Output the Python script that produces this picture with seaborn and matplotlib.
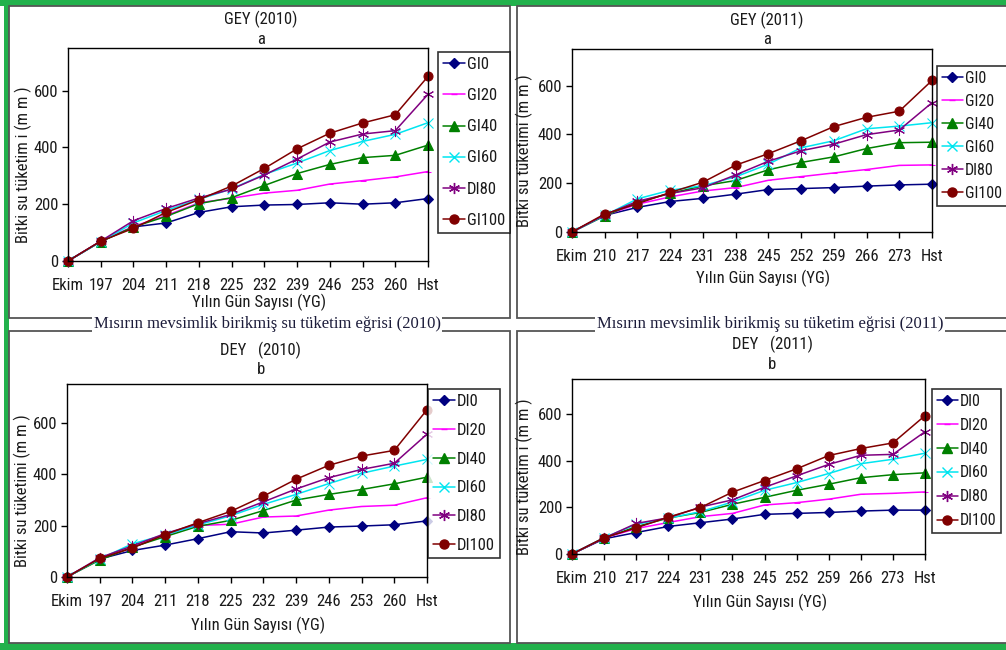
import matplotlib
matplotlib.use("Agg")
import matplotlib.pyplot as plt
from matplotlib.patches import Rectangle
from matplotlib.lines import Line2D
from matplotlib import font_manager
import seaborn as sns
import numpy as np

sns.set_theme(style="white")

_names = {f.name for f in font_manager.fontManager.ttflist}
_cond = None
for cand in ["Liberation Sans Narrow", "Arial Narrow", "Roboto Condensed",
             "Open Sans Condensed", "DejaVu Sans Condensed"]:
    if cand in _names:
        _cond = cand
        break
SANS = ([_cond] if _cond else []) + ["Liberation Sans", "DejaVu Sans"]
SERIF = ["Liberation Serif", "DejaVu Serif"]
plt.rcParams["font.family"] = SANS
FS = 12 if _cond else 11

# ---------------- data ----------------
x_2010 = ["Ekim", "197", "204", "211", "218", "225", "232", "239", "246", "253", "260", "Hst"]
x_2011 = ["Ekim", "210", "217", "224", "231", "238", "245", "252", "259", "266", "273", "Hst"]

gey_labels = ["GI0", "GI20", "GI40", "GI60", "DI80", "GI100"]
dey_labels = ["DI0", "DI20", "DI40", "DI60", "DI80", "DI100"]

gey2010_0 = [0, 69, 120, 134, 171, 191, 197, 199, 205, 200, 205, 220]
gey2010_20 = [0, 69, 122, 160, 205, 221, 239, 249, 271, 283, 296, 315]
gey2010_40 = [0, 68, 120, 157, 202, 223, 266, 308, 340, 364, 372, 408]
gey2010_60 = [0, 68, 134, 178, 217, 254, 305, 345, 389, 421, 446, 487]
gey2010_80 = [0, 70, 142, 185, 222, 253, 303, 359, 419, 447, 459, 587]
gey2010_100 = [0, 70, 115, 171, 216, 264, 326, 395, 450, 486, 515, 650]

gey2011_0 = [0, 68, 101, 125, 138, 155, 174, 178, 182, 188, 193, 196]
gey2011_20 = [0, 68, 114, 144, 168, 182, 212, 227, 242, 256, 273, 275]
gey2011_40 = [0, 66, 122, 158, 189, 211, 255, 285, 308, 342, 366, 368]
gey2011_60 = [0, 68, 136, 171, 190, 226, 278, 345, 374, 423, 434, 448]
gey2011_80 = [0, 70, 126, 158, 181, 234, 290, 333, 360, 399, 418, 530]
gey2011_100 = [0, 74, 116, 162, 204, 274, 321, 374, 432, 470, 495, 621]

dey2010_0 = [0, 70, 103, 124, 149, 176, 171, 182, 194, 198, 203, 218]
dey2010_20 = [0, 70, 115, 163, 200, 205, 233, 237, 260, 274, 279, 308]
dey2010_40 = [0, 66, 116, 157, 197, 220, 258, 299, 321, 340, 362, 388]
dey2010_60 = [0, 70, 129, 164, 202, 238, 282, 321, 363, 403, 431, 457]
dey2010_80 = [0, 75, 121, 169, 207, 243, 292, 342, 386, 418, 442, 555]
dey2010_100 = [0, 72, 113, 165, 211, 255, 314, 380, 434, 470, 492, 650]

dey2011_0 = [0, 65, 92, 118, 134, 150, 170, 174, 178, 184, 188, 188]
dey2011_20 = [0, 68, 109, 135, 160, 174, 210, 220, 235, 256, 260, 266]
dey2011_40 = [0, 68, 117, 154, 178, 213, 243, 273, 299, 327, 340, 348]
dey2011_60 = [0, 70, 127, 154, 181, 223, 273, 306, 345, 387, 406, 432]
dey2011_80 = [0, 68, 131, 155, 201, 232, 286, 335, 384, 423, 427, 524]
dey2011_100 = [0, 70, 112, 158, 199, 265, 315, 365, 422, 452, 476, 593]

y_ticks = [0, 200, 400, 600]

# ---------------- styles ----------------
colors = ["#000080", "#FF00FF", "#008000", "#00E5F0", "#800080", "#800000"]
markers = ["D", "_", "^", "x", (6, 2, 0), "o"]
msizes = [5, 5, 6.5, 6.5, 8, 6.5]

W, H = 1006, 650
fig = plt.figure(figsize=(W / 100, H / 100), dpi=100)


def fx(x):
    return x / W


def fy(y):
    return 1 - y / H


def rect_px(x0, y0, x1, y1):
    return [fx(x0), fy(y1), (x1 - x0) / W, (y1 - y0) / H]


# green outer frame
fig.patches.append(Rectangle((0, fy(6)), 1, 6 / H, transform=fig.transFigure,
                             facecolor="#22B14C", edgecolor="none", zorder=0))
fig.patches.append(Rectangle((0, 0), 1, 7 / H, transform=fig.transFigure,
                             facecolor="#22B14C", edgecolor="none", zorder=0))
fig.patches.append(Rectangle((fx(4), 0), 5 / W, 1, transform=fig.transFigure,
                             facecolor="#22B14C", edgecolor="none", zorder=0))

# panel boxes
for (x0, y0, x1, y1) in [(9, 6, 510, 318), (517, 6, 1010, 318),
                         (9, 331, 510, 643), (517, 331, 1010, 643)]:
    fig.patches.append(Rectangle((fx(x0), fy(y1)), (x1 - x0) / W, (y1 - y0) / H,
                                 transform=fig.transFigure, facecolor="white",
                                 edgecolor="#555555", linewidth=1.3, zorder=1))

panels = [
    dict(rect=(68, 48, 428, 261), xl=x_2010, labels=gey_labels,
         series=[gey2010_0, gey2010_20, gey2010_40, gey2010_60, gey2010_80, gey2010_100],
         title="GEY (2010)", sub="a", tx=261, ty=19, sy=39,
         xlab_x=259, xlab_y=302, ylab="Bitki su tüketim i (m m )", ylab_x=23,
         leg=(438, 52, 249), lfs=FS),
    dict(rect=(572, 49, 932, 232), xl=x_2011, labels=gey_labels,
         series=[gey2011_0, gey2011_20, gey2011_40, gey2011_60, gey2011_80, gey2011_100],
         title="GEY (2011)", sub="a", tx=767, ty=20, sy=40,
         xlab_x=763, xlab_y=278, ylab="Bitki su tüketimi (m m )", ylab_x=524,
         leg=(937, 66, 210), lfs=FS - 0.5),
    dict(rect=(67, 384, 427, 577), xl=x_2010, labels=dey_labels,
         series=[dey2010_0, dey2010_20, dey2010_40, dey2010_60, dey2010_80, dey2010_100],
         title="DEY   (2010)", sub="b", tx=261, ty=350, sy=370,
         xlab_x=258, xlab_y=625, ylab="Bitki su tüketimi (m m )", ylab_x=22,
         leg=(428, 389, 572), lfs=FS),
    dict(rect=(572, 379, 925, 554), xl=x_2011, labels=dey_labels,
         series=[dey2011_0, dey2011_20, dey2011_40, dey2011_60, dey2011_80, dey2011_100],
         title="DEY   (2011)", sub="b", tx=772, ty=344, sy=364,
         xlab_x=760, xlab_y=602, ylab="Bitki su tüketim i (m m )", ylab_x=524,
         leg=(932, 389, 538), lfs=FS - 0.5),
]

TXT = "#1a1a1a"

for p in panels:
    x0, y0, x1, y1 = p["rect"]
    ax = fig.add_axes(rect_px(x0, y0, x1, y1))
    ax.set_zorder(3)
    xpos = np.arange(len(p["xl"]))
    for vals, lab, c, m, ms in zip(p["series"], p["labels"], colors, markers, msizes):
        sns.lineplot(x=xpos, y=vals, ax=ax, color=c, marker=m, markersize=ms,
                     markeredgecolor=c, markerfacecolor=c, linewidth=1.1,
                     label=lab, legend=False, clip_on=False)
    ax.set_xlim(0, len(p["xl"]) - 1)
    ax.set_ylim(0, 750)
    ax.set_xticks(xpos)
    ax.set_xticklabels(p["xl"])
    ax.set_yticks(y_ticks)
    ax.set_xlabel("")
    ax.set_ylabel("")
    for s in ax.spines.values():
        s.set_color("black")
        s.set_linewidth(1.0)
        s.set_visible(True)
    ax.tick_params(axis="both", which="major", direction="out", length=4, width=1,
                   color="black", labelsize=FS, labelcolor=TXT, bottom=True, left=True)
    ax.tick_params(axis="x", pad=8)
    ax.tick_params(axis="y", pad=3)
    for t in ax.get_xticklabels() + ax.get_yticklabels():
        t.set_family(SANS)

    fig.text(fx(p["tx"]), fy(p["ty"]), p["title"], ha="center", va="center",
             fontsize=FS, color=TXT, family=SANS)
    fig.text(fx(p["tx"]), fy(p["sy"]), p["sub"], ha="center", va="center",
             fontsize=FS, color=TXT, family=SANS)
    fig.text(fx(p["xlab_x"]), fy(p["xlab_y"]), "Yılın Gün Sayısı (YG)", ha="center",
             va="center", fontsize=FS, color=TXT, family=SANS)
    fig.text(fx(p["ylab_x"]), fy((y0 + y1) / 2 + 10), p["ylab"], ha="center", va="center",
             rotation=90, fontsize=FS, color=TXT, family=SANS)

    lx, ltop, lbot = p["leg"]
    lfs = p["lfs"]
    handles = [Line2D([0], [0], color=c, marker=m, markersize=ms, markeredgecolor=c,
                      markerfacecolor=c, linewidth=1.1)
               for c, m, ms in zip(colors, markers, msizes)]
    n = len(handles)
    per = (lbot - ltop) / n
    em = lfs * 100 / 72
    spacing = max((per - em) / em, 0.2)
    leg = ax.legend(handles, p["labels"], loc="upper left",
                    bbox_to_anchor=(fx(lx), fy(ltop)), bbox_transform=fig.transFigure,
                    frameon=True, fancybox=False, labelspacing=spacing,
                    handlelength=1.3, handletextpad=0.15, borderpad=0.3,
                    borderaxespad=0, prop={"family": SANS, "size": lfs})
    leg.get_frame().set_edgecolor("black")
    leg.get_frame().set_linewidth(1.2)
    for t in leg.get_texts():
        t.set_color(TXT)

# middle band titles
for xc, txt in [(267, "Mısırın mevsimlik birikmiş su tüketim eğrisi (2010)"),
                (770, "Mısırın mevsimlik birikmiş su tüketim eğrisi (2011)")]:
    fig.text(fx(xc), fy(324.5), txt, ha="center", va="center", fontsize=12,
             color="#1c1c3a", family=SERIF, zorder=5,
             bbox=dict(facecolor="white", edgecolor="none", pad=1.0))

fig.savefig("out.png", dpi=100)
